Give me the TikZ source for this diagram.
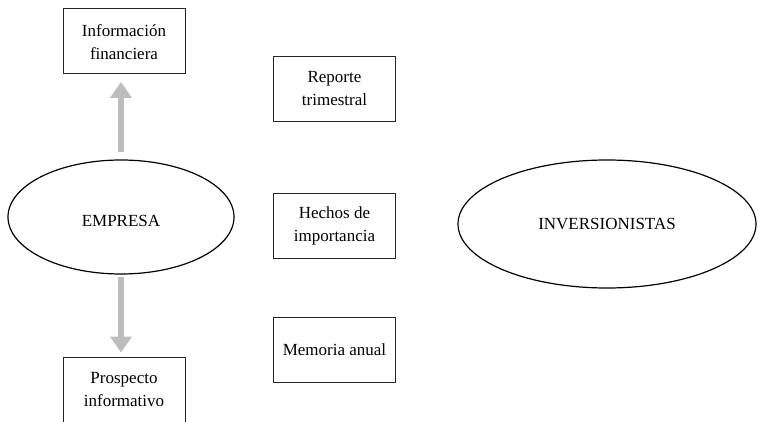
\documentclass[tikz,border=0pt]{standalone}
\usepackage{fontspec}
\setmainfont{Liberation Serif}
\usetikzlibrary{shapes.geometric,arrows.meta}
\definecolor{arrowgray}{HTML}{BDBDBD}
\begin{document}
\begin{tikzpicture}[x=1pt,y=-1pt,
  box/.style={draw=black!85,line width=0.9pt,minimum width=122pt,minimum height=65pt,inner sep=0pt,align=center,font=\fontsize{17}{23}\selectfont},
  oval/.style={ellipse,draw,line width=1.2pt,inner sep=0pt,font=\fontsize{17}{23}\selectfont},
  garrow/.style={draw=arrowgray,line width=6pt,-{Triangle[width=21pt,length=16pt]}}
]
\useasboundingbox (0,0) rectangle (758,422);
\clip (0,0) rectangle (758,422);
\node[box,align=none] (info) at (124,40.5) {\raisebox{-3pt}[\height][\depth]{\begin{tabular}{@{}c@{}}Información\\financiera\end{tabular}}};
\node[box] (rep) at (334.5,88.5) {Reporte\\trimestral};
\node[box] (hec) at (334.5,225.5) {Hechos de\\importancia};
\node[box] (mem) at (334.5,350) {Memoria anual};
\node[box] (pro) at (124,390) {Prospecto\\informativo};
\node[oval,minimum width=226pt,minimum height=114pt] (emp) at (121,217) {\raisebox{-4pt}[\height][\depth]{EMPRESA}};
\node[oval,minimum width=298pt,minimum height=128pt] (inv) at (607,224) {INVERSIONISTAS};
\draw[garrow,shorten <=7pt,shorten >=8.5pt] (emp.north) -- (emp.north |- info.south);
\draw[garrow,shorten <=2pt,shorten >=4.5pt] (emp.south) -- (emp.south |- pro.north);
\end{tikzpicture}
\end{document}
